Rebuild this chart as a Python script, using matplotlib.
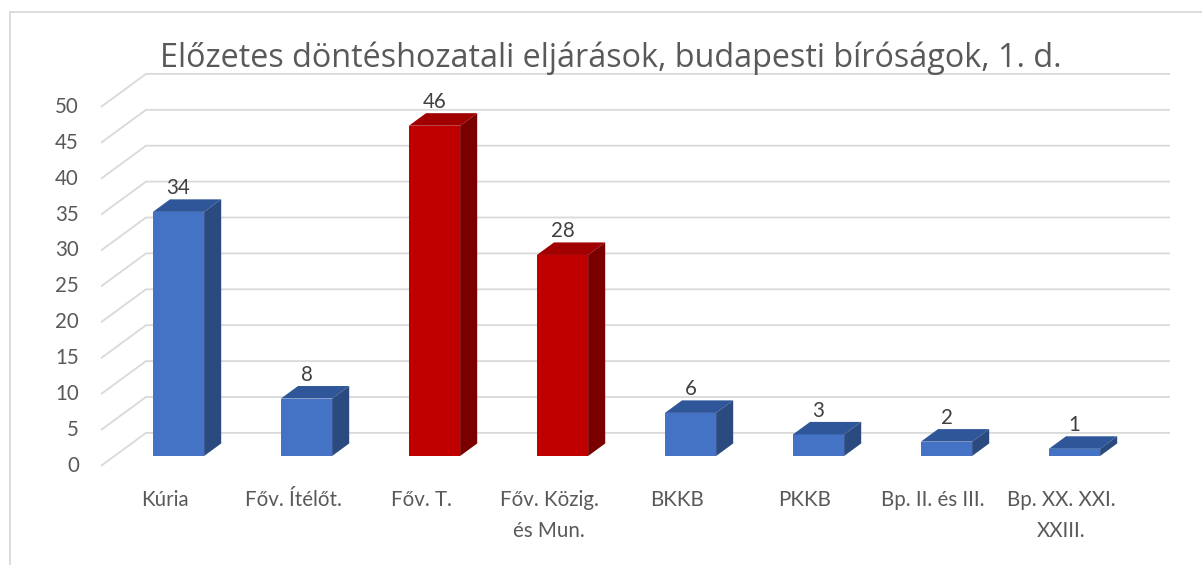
import matplotlib
matplotlib.use("Agg")
import matplotlib.pyplot as plt
from matplotlib.patches import Polygon, Rectangle

plt.rcParams['font.family'] = ['Lato', 'DejaVu Sans']

# ---- data ----
title = "Előzetes döntéshozatali eljárások, budapesti bíróságok, 1. d."
categories = ["Kúria", "Főv. Ítélőt.", "Főv. T.", "Főv. Közig.\nés Mun.",
              "BKKB", "PKKB", "Bp. II. és III.", "Bp. XX. XXI.\nXXIII."]
values = [34, 8, 46, 28, 6, 3, 2, 1]
highlight = [False, False, True, True, False, False, False, False]
yticks = [0, 5, 10, 15, 20, 25, 30, 35, 40, 45, 50]

# ---- style ----
W, H = 1202, 565
fig = plt.figure(figsize=(W / 100, H / 100), dpi=100)
ax = fig.add_axes([0, 0, 1, 1])
ax.set_axis_off()

# scale: category spacing 128 px, 7.18 px per value unit
PX_CAT = 128.0
PX_VAL = 7.18
X0_PX, Y0_PX = 178.5, 456.0
ax.set_xlim(-X0_PX / PX_CAT, (W - X0_PX) / PX_CAT)
ax.set_ylim((Y0_PX - H) / PX_VAL, Y0_PX / PX_VAL)

# oblique depth vector (floor front -> back wall)
Dx = 45 / PX_CAT
Dy = 33 / PX_VAL
d_front = 0.30   # bar front depth
d_back = 0.68    # bar back depth
ddx = (d_back - d_front) * Dx
ddy = (d_back - d_front) * Dy

n = len(categories)
xmin, xmax = -0.5, n - 0.5
grid_c = '#D9D9D9'
FS = 14.8

# gridlines: diagonal on side wall, then horizontal on back wall
for v in yticks:
    fx, fy = xmin - d_front * Dx, v - d_front * Dy
    bx, by = xmin + (1 - d_front) * Dx, v + (1 - d_front) * Dy
    ex = xmax + (1 - d_front) * Dx
    ax.plot([fx, bx, ex], [fy, by, by], color=grid_c, lw=1.3, zorder=1,
            solid_capstyle='butt')
    ax.annotate(str(v), (fx, fy), xytext=(-22, 0), textcoords='offset pixels',
                ha='right', va='center', fontsize=FS, color='#595959')

bw = 0.4
colors_front = {False: '#4472C4', True: '#C00000'}
colors_top = {False: '#30569A', True: '#A00000'}
colors_side = {False: '#2A4A80', True: '#7A0000'}

xs = list(range(n))
fronts = [colors_front[h] for h in highlight]
ax.bar(xs, values, width=bw, color=fronts, zorder=3)

for x, v, h in zip(xs, values, highlight):
    l, r = x - bw / 2, x + bw / 2
    top = Polygon([(l, v), (r, v), (r + ddx, v + ddy), (l + ddx, v + ddy)],
                  closed=True, facecolor=colors_top[h], edgecolor='none', zorder=3)
    side = Polygon([(r, 0), (r, v), (r + ddx, v + ddy), (r + ddx, ddy)],
                   closed=True, facecolor=colors_side[h], edgecolor='none', zorder=3)
    ax.add_patch(top)
    ax.add_patch(side)
    ax.annotate(str(v), (x, v + ddy), xytext=(0, 5), textcoords='offset pixels',
                ha='center', va='baseline', fontsize=FS, color='#404040', zorder=4)

# category labels at the floor front
for x, lab in zip(xs, categories):
    ax.annotate(lab, (x - d_front * Dx, -d_front * Dy), xytext=(0, -24),
                textcoords='offset pixels', ha='center', va='top',
                fontsize=FS, color='#595959', linespacing=1.7,
                multialignment='center')

# title
fig.text(611 / W, 1 - 67 / H, title, ha='center', va='baseline',
         fontsize=23.3, color='#595959', family=['Open Sans', 'DejaVu Sans'])

# chart border
fig.patches.append(Rectangle((9.5 / W, -0.1), (W - 9) / W, 1.1 - 12.5 / H,
                             transform=fig.transFigure, fill=False,
                             edgecolor='#D9D9D9', lw=1.3))

fig.savefig('out.png', dpi=100)
